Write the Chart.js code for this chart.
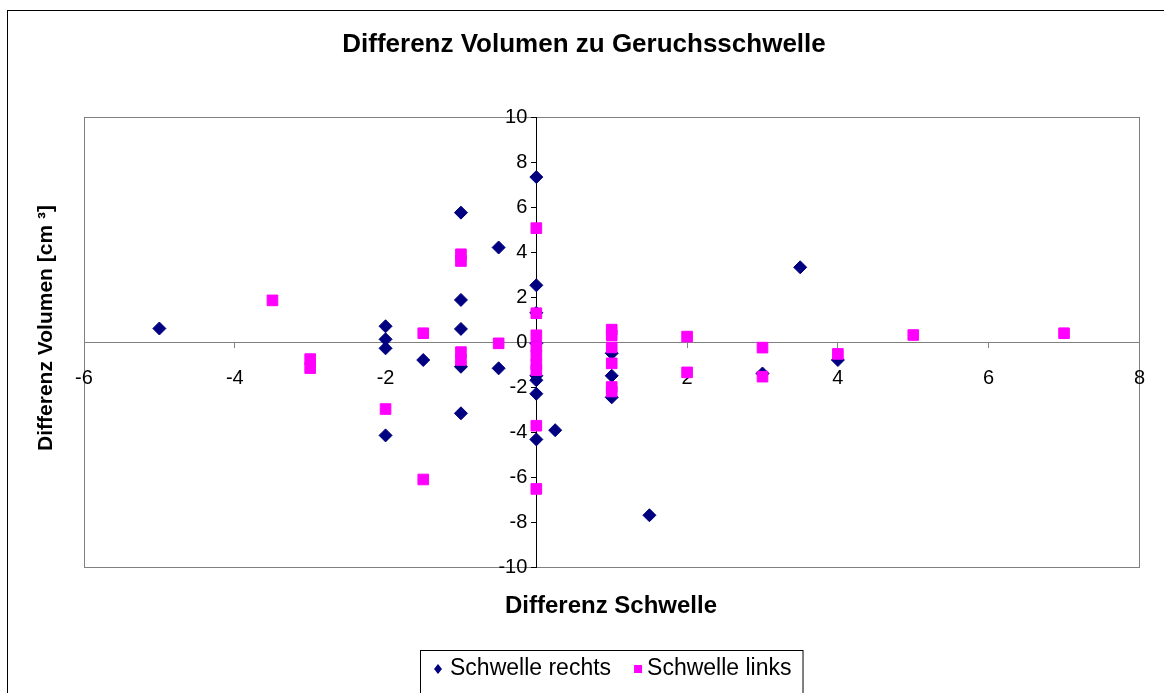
<!DOCTYPE html>
<html>
<head>
<meta charset="utf-8">
<script src="https://cdn.jsdelivr.net/npm/chart.js@4.4.1/dist/chart.umd.min.js"></script>
<style>
html,body{margin:0;padding:0;background:#fff;}
#wrap{position:relative;width:1164px;height:693px;}
</style>
</head>
<body>
<div id="wrap"><canvas id="c" width="1164" height="693"></canvas></div>
<script>
const chartTitle = 'Differenz Volumen zu Geruchsschwelle';
const xAxisTitle = 'Differenz Schwelle';
const yAxisTitle = 'Differenz Volumen [cm \u00B3]';
const seriesNames = ['Schwelle rechts', 'Schwelle links'];

const rechtsX = [-5, -2, -2, -2, -2, -1.5, -1, -1, -1, -1, -1, -0.5, -0.5, 0, 0, 0, 0, 0, 0, 0, 0, 0.25, 1, 1, 1, 1.5, 3, 3.5, 4];
const rechtsY = [0.6, 0.7, 0.12, -0.28, -4.15, -0.8, 5.75, 1.87, 0.58, -1.1, -3.17, 4.2, -1.17, 7.33, 2.52, 1.3, -0.06, -1.5, -1.7, -2.3, -4.33, -3.92, -0.5, -1.5, -2.46, -7.7, -1.4, 3.32, -0.8];

const linksX = [-3.5, -3, -3, -2, -1.5, -1.5, -1, -1, -1, -1, -0.5, 0, 0, 0, 0, 0, 0, 0, 0, 0, 1, 1, 1, 1, 1, 1, 2, 2, 3, 3, 4, 5, 7];
const linksY = [1.85, -0.76, -1.16, -2.98, 0.39, -6.11, 3.9, 3.6, -0.45, -0.8, -0.06, 5.06, 1.28, 0.3, -0.2, -0.6, -1.0, -1.25, -3.72, -6.53, 0.55, 0.3, -0.24, -0.95, -2.0, -2.2, 0.24, -1.35, -0.25, -1.54, -0.53, 0.31, 0.39];

const xTicks = [-6, -4, -2, 0, 2, 4, 6, 8];
const yTicks = [-10, -8, -6, -4, -2, 0, 2, 4, 6, 8, 10];

const colRechts = '#000080';
const colLinks = '#FF00FF';
const FONT = "'Liberation Sans', Arial, sans-serif";

const toPoints = (xs, ys) => xs.map((x, i) => ({x: x, y: ys[i]}));

const decorPlugin = {
  id: 'decor',
  beforeDraw(chart) {
    const ctx = chart.ctx;
    const a = chart.chartArea;
    ctx.save();
    ctx.fillStyle = '#fff';
    ctx.fillRect(0, 0, chart.width, chart.height);
    ctx.strokeStyle = '#000';
    ctx.lineWidth = 1;
    ctx.strokeRect(7.5, 10.5, chart.width + 10, chart.height + 10);
    ctx.strokeStyle = '#808080';
    ctx.strokeRect(Math.round(a.left) + 0.5, Math.round(a.top) + 0.5, Math.round(a.right - a.left), Math.round(a.bottom - a.top));
    ctx.restore();
  },
  afterDraw(chart) {
    const ctx = chart.ctx;
    const ys = chart.scales.y;
    const xs = chart.scales.x;
    ctx.save();
    ctx.fillStyle = '#000';
    // y tick labels, placed by the library's y scale
    ctx.font = '20px ' + FONT;
    ctx.textAlign = 'right';
    ctx.textBaseline = 'middle';
    const axisX = xs.getPixelForValue(0);
    ys.ticks.forEach(t => {
      ctx.fillText(String(t.value), axisX - 9, ys.getPixelForValue(t.value));
    });
    // title
    ctx.font = 'bold 26px ' + FONT;
    ctx.textAlign = 'center';
    ctx.fillText(chartTitle, 584, 45);
    // x axis title
    ctx.font = 'bold 24px ' + FONT;
    ctx.fillText(xAxisTitle, 611, 606);
    // y axis title
    ctx.font = 'bold 21px ' + FONT;
    ctx.save();
    ctx.translate(46, 328);
    ctx.rotate(-Math.PI / 2);
    ctx.fillText(yAxisTitle, 0, 0);
    ctx.restore();
    // legend
    ctx.font = '23px ' + FONT;
    ctx.textAlign = 'left';
    const w1 = ctx.measureText(seriesNames[0]).width;
    const w2 = ctx.measureText(seriesNames[1]).width;
    const ly = 669;
    const boxL = 420;
    const m1 = boxL + 18;
    const t1 = m1 + 12;
    const m2 = t1 + w1 + 27;
    const t2 = m2 + 9;
    const boxR = t2 + w2 + 11;
    ctx.strokeStyle = '#000';
    ctx.lineWidth = 1;
    ctx.strokeRect(boxL + 0.5, 650.5, boxR - boxL, 50);
    ctx.fillStyle = colRechts;
    ctx.beginPath();
    ctx.moveTo(m1, ly - 5); ctx.lineTo(m1 + 4, ly); ctx.lineTo(m1, ly + 5); ctx.lineTo(m1 - 4, ly);
    ctx.closePath(); ctx.fill();
    ctx.fillStyle = colLinks;
    ctx.fillRect(m2 - 4, ly - 4, 8, 8);
    ctx.fillStyle = '#000';
    ctx.fillText(seriesNames[0], t1, ly);
    ctx.fillText(seriesNames[1], t2, ly);
    ctx.restore();
  }
};

new Chart(document.getElementById('c'), {
  type: 'scatter',
  data: {
    datasets: [
      {
        label: seriesNames[0],
        data: toPoints(rechtsX, rechtsY),
        pointStyle: 'rectRot',
        pointRadius: 6.5,
        pointBorderWidth: 1,
        backgroundColor: colRechts,
        borderColor: colRechts,
        order: 1
      },
      {
        label: seriesNames[1],
        data: toPoints(linksX, linksY),
        pointStyle: 'rect',
        pointRadius: 7.5,
        pointBorderWidth: 1,
        backgroundColor: colLinks,
        borderColor: colLinks,
        order: 0
      }
    ]
  },
  options: {
    responsive: false,
    animation: false,
    devicePixelRatio: 1,
    layout: { padding: { left: 84, right: 24, top: 117, bottom: 126 } },
    plugins: {
      legend: { display: false },
      title: { display: false },
      tooltip: { enabled: false }
    },
    scales: {
      x: {
        type: 'linear',
        min: -6, max: 8,
        position: { y: 0 },
        afterBuildTicks: s => { s.ticks = xTicks.map(v => ({ value: v })); },
        grid: { drawOnChartArea: false, drawTicks: true, tickLength: 5, color: '#808080' },
        border: { display: true, color: '#808080', width: 1 },
        ticks: {
          color: '#000',
          font: { family: FONT, size: 20 },
          padding: 19,
          autoSkip: false,
          maxRotation: 0,
          callback: v => String(v)
        }
      },
      y: {
        type: 'linear',
        min: -10, max: 10,
        position: { x: 0 },
        afterBuildTicks: s => { s.ticks = yTicks.map(v => ({ value: v })); },
        grid: { drawOnChartArea: false, drawTicks: true, tickLength: 5, color: '#000' },
        border: { display: true, color: '#000', width: 1 },
        ticks: { display: false }
      }
    }
  },
  plugins: [decorPlugin]
});
</script>
</body>
</html>
